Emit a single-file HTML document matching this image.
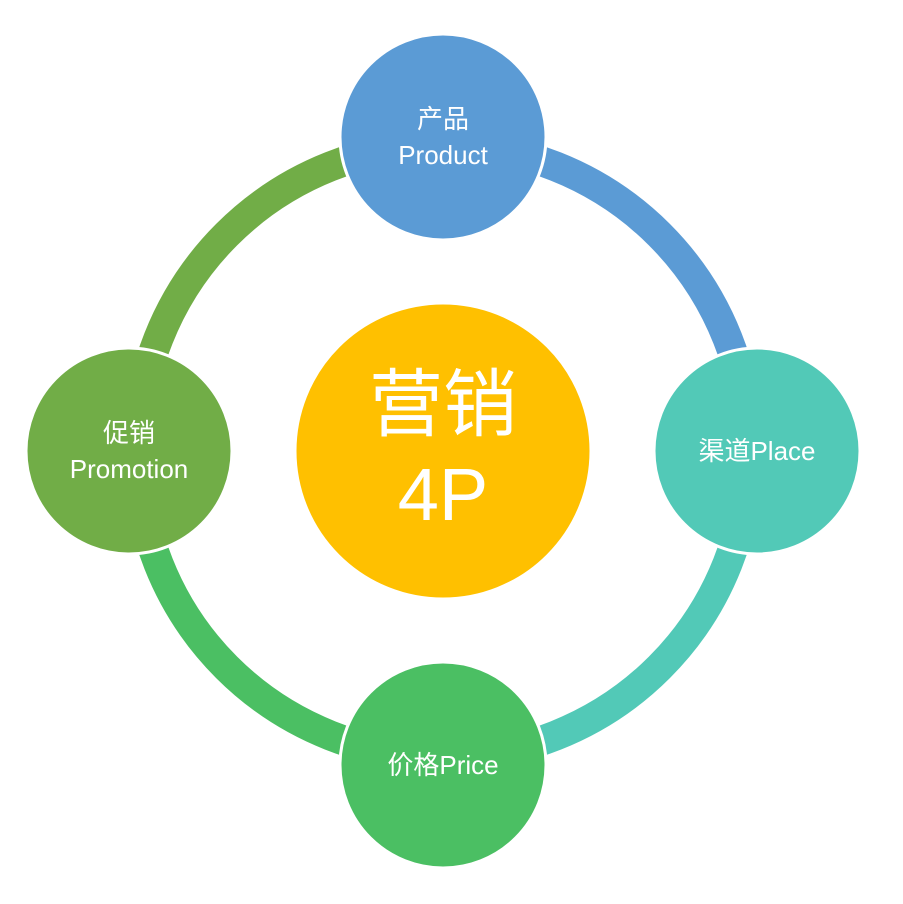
<!DOCTYPE html>
<html><head><meta charset="utf-8"><style>
body{margin:0;background:#fff}
text{font-family:"Liberation Sans","Noto Sans CJK SC",sans-serif;fill:#fff}
</style></head><body>
<svg width="903" height="899" viewBox="0 0 903 899" xmlns="http://www.w3.org/2000/svg">
<g fill="none" stroke-width="30">
<path d="M443 145 A306 306 0 0 1 749 451" stroke="#5B9BD5"/>
<path d="M749 451 A306 306 0 0 1 443 757" stroke="#52C9B7"/>
<path d="M443 757 A306 306 0 0 1 137 451" stroke="#4BBF63"/>
<path d="M137 451 A306 306 0 0 1 443 145" stroke="#71AD47"/>
</g>
<g stroke="#fff" stroke-width="3">
<circle cx="443" cy="137" r="103" fill="#5B9BD5"/>
<circle cx="757" cy="451" r="103" fill="#52C9B7"/>
<circle cx="443" cy="765" r="103" fill="#4BBF63"/>
<circle cx="129" cy="451" r="103" fill="#71AD47"/>
<circle cx="443" cy="451" r="148" fill="#FFC000"/>
</g>
<g font-size="26" text-anchor="middle">
<text x="443" y="128">产品</text>
<text x="443" y="164">Product</text>
<text x="757" y="460">渠道Place</text>
<text x="443" y="774">价格Price</text>
<text x="129" y="442">促销</text>
<text x="129" y="478">Promotion</text>
<text x="443" y="430" font-size="74">营销</text>
<text x="443" y="520" font-size="74">4P</text>
</g>
</svg>
</body></html>
